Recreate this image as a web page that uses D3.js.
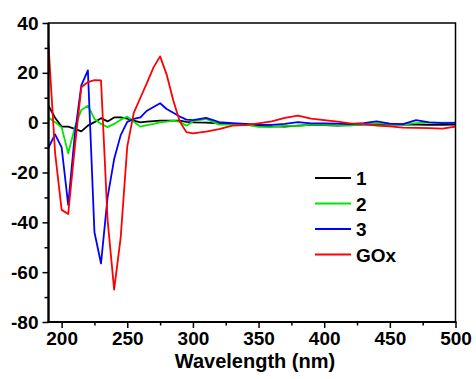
<!DOCTYPE html>
<html>
<head>
<meta charset="utf-8">
<script src="https://cdn.jsdelivr.net/npm/d3@7"></script>
<style>
  html, body { margin: 0; padding: 0; background: #fff; }
  svg { display: block; }
  text { font-family: "Liberation Sans", Arial, sans-serif; font-weight: bold; fill: #000; }
</style>
</head>
<body>
<svg id="chart" width="476" height="379"></svg>
<script>
// Wavelength grid (nm)
const wavelengths = [190,195,200,205,210,215,220,225,230,235,240,245,250,255,260,265,270,275,280,285,290,295,300,
  310,320,330,340,350,360,370,380,390,400,410,420,430,440,450,460,470,480,490,500];

const series1 = [6.8,2.0,-1.6,-1.6,-2.5,-3.5,-1.2,0.2,1.8,0.5,2.1,2.1,1.6,0.8,0.1,0.4,0.6,0.8,0.8,0.8,0.8,0.3,0.1,
  0.0,-0.3,-0.5,-0.8,-1.2,-1.5,-1.6,-1.2,-0.9,-1.0,-1.2,-1.0,-0.8,-0.8,-0.8,-0.8,-0.8,-0.9,-0.9,-0.8];

const series2 = [2.1,0.2,-1.9,-12.3,-2.0,5.1,6.8,1.5,-0.5,-1.8,-0.5,1.2,2.4,0.4,-1.6,-1.0,-0.5,0.1,0.4,0.8,0.3,-1.2,0.5,
  1.5,-0.8,-0.8,-0.8,-1.7,-1.8,-1.2,-1.4,-0.8,-0.9,-1.0,-1.2,-0.6,-0.3,-0.5,-0.8,-0.2,0.0,0.0,0.0];

const series3 = [-10.0,-4.7,-9.9,-33.0,-5.0,15.0,21.0,-44.0,-56.5,-30.0,-14.6,-5.0,0.3,1.5,2.1,4.8,6.3,7.8,5.5,4.0,2.5,1.2,1.0,
  1.9,0.2,-0.2,-0.5,-0.8,-0.9,-0.5,0.2,-0.3,-0.3,-0.4,-0.6,-0.2,0.5,-0.4,-0.6,1.0,0.1,-0.2,-0.1];

const seriesGOx = [31.0,-12.0,-35.0,-36.7,-10.0,14.2,16.3,17.1,17.0,-39.0,-67.0,-46.0,-9.5,4.0,10.0,16.0,22.2,26.6,19.3,9.0,0.5,-3.8,-4.3,
  -3.6,-2.6,-1.2,-1.0,-0.3,0.5,1.9,2.8,1.6,1.0,0.4,-0.3,-0.5,-1.2,-1.5,-2.0,-2.1,-2.2,-2.4,-1.6];

const seriesNames = ["1","2","3","GOx"];
const seriesColors = ["#000000","#00e600","#0000ff","#ff0000"];
const seriesData = [series1, series2, series3, seriesGOx];

const xMajorTicks = [200,250,300,350,400,450,500];
const xMinorTicks = [225,275,325,375,425,475];
const yMajorTicks = [40,20,0,-20,-40,-60,-80];
const yMinorTicks = [30,10,-10,-30,-50,-70];
const xTitle = "Wavelength (nm)";

(function draw() {
const svg = d3.select("#chart");
const pL = 48.5, pR = 455.5, pT = 23, pB = 322;

const x = d3.scaleLinear().domain([190, 500]).range([pL, pR]);
const y = d3.scaleLinear().domain([-80, 40]).range([pB, pT]);

svg.append("defs").append("clipPath").attr("id","clip")
  .append("rect").attr("x", pL).attr("y", pT).attr("width", pR-pL).attr("height", pB-pT);

// Data lines
const line = d3.line().x(d => x(d[0])).y(d => y(d[1]));
const g = svg.append("g").attr("clip-path","url(#clip)");
seriesData.forEach((vals, i) => {
  g.append("path")
    .datum(wavelengths.map((w, j) => [w, vals[j]]))
    .attr("fill","none")
    .attr("stroke", seriesColors[i])
    .attr("stroke-width", 1.8)
    .attr("stroke-linejoin","round")
    .attr("d", line);
});

// Axes
const xAxis = svg.append("g").attr("transform", `translate(0,${pB})`)
  .call(d3.axisBottom(x).tickValues(xMajorTicks).tickSize(6).tickPadding(4).tickFormat(d3.format("d")));
svg.append("g").attr("transform", `translate(0,${pB})`)
  .call(d3.axisBottom(x).tickValues(xMinorTicks).tickSize(3.5).tickFormat(""));
const yAxis = svg.append("g").attr("transform", `translate(${pL},0)`)
  .call(d3.axisLeft(y).tickValues(yMajorTicks).tickSize(6).tickPadding(4).tickFormat(d => d < 0 ? "-" + Math.abs(d) : d));
svg.append("g").attr("transform", `translate(${pL},0)`)
  .call(d3.axisLeft(y).tickValues(yMinorTicks).tickSize(4).tickFormat(""));

svg.selectAll(".domain").remove();
svg.selectAll(".tick line").attr("stroke","#000").attr("stroke-width",1.5);
xAxis.selectAll("text").attr("font-size", 19).attr("font-family","Liberation Sans, Arial, sans-serif").attr("font-weight","bold").attr("fill","#000");
yAxis.selectAll("text").attr("font-size", 19).attr("font-family","Liberation Sans, Arial, sans-serif").attr("font-weight","bold").attr("fill","#000");

// Frame
svg.append("rect").attr("x", pL).attr("y", pT).attr("width", pR-pL).attr("height", pB-pT)
  .attr("fill","none").attr("stroke","#000").attr("stroke-width",1.5);
svg.append("line").attr("x1", pL).attr("x2", pL).attr("y1", pT).attr("y2", pB+1)
  .attr("stroke","#000").attr("stroke-width",2.2);
svg.append("line").attr("x1", pL-1).attr("x2", pR+1).attr("y1", pB).attr("y2", pB)
  .attr("stroke","#000").attr("stroke-width",2.2);

// Title
svg.append("text").attr("x", (pL+pR)/2 + 3).attr("y", 368).attr("text-anchor","middle")
  .attr("font-size", 20).text(xTitle);

// Legend
const legY = [178, 203.5, 229, 254.5];
seriesNames.forEach((name, i) => {
  svg.append("line").attr("x1", 315).attr("x2", 351).attr("y1", legY[i]).attr("y2", legY[i])
    .attr("stroke", seriesColors[i]).attr("stroke-width", 2);
  svg.append("text").attr("x", 356).attr("y", legY[i] + 7).attr("font-size", 19).text(name);
});
})();
</script>
</body>
</html>
